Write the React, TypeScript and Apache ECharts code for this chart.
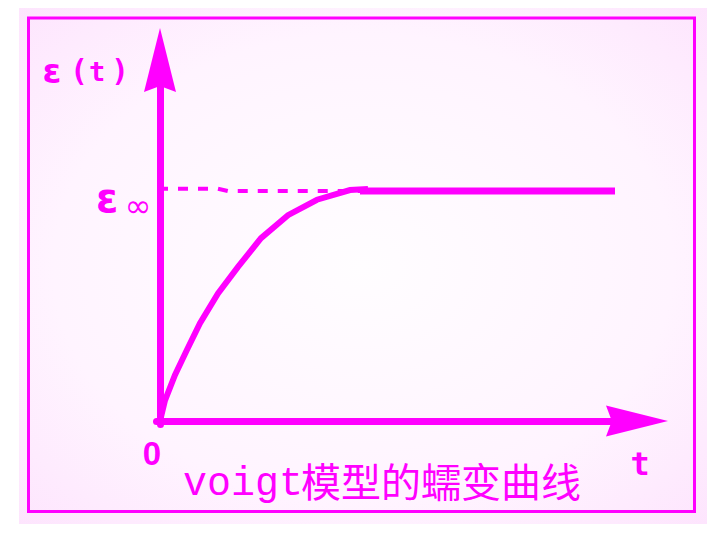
import React, { useEffect, useRef } from "react";
import * as echarts from "echarts";

// Creep curve of the Voigt model (t in arbitrary units, strain relative to ε∞)
const curveT = [0, 0.1, 0.3, 0.54, 0.8, 1.16, 1.56, 2.02, 2.56, 3.14, 3.8, 4.16];
const curveStrain = [0, 0.09, 0.2, 0.31, 0.425, 0.555, 0.67, 0.795, 0.895, 0.962, 1.004, 1.009];
// asymptote ε∞ (dashed reference) and the steady plateau
const dashT = [0, 1.16, 1.36, 4.0];
const dashStrain = [1.01, 1.01, 1.0, 1.0];
const plateauT = [4.0, 9.1];
const plateauStrain = [1.0, 1.0];

const MAGENTA = "#ff00ff";

const pairs = (xs: number[], ys: number[]) => xs.map((x, i) => [x, ys[i]]);

const arrowPath = "path://M16,0 L32,64 L16,58 L0,64 Z";

function txt(text: string, x: number, y: number, font: string, align = "center") {
  return {
    type: "text",
    x,
    y,
    silent: true,
    style: {
      text,
      font,
      fill: MAGENTA,
      align,
      textAlign: align,
      verticalAlign: "middle",
      textVerticalAlign: "middle",
    },
  };
}

export default function App() {
  const ref = useRef<HTMLDivElement>(null);
  useEffect(() => {
    if (!ref.current) return;
    const chart = echarts.init(ref.current, null, { renderer: "svg" });
    chart.setOption({
      animation: false,
      backgroundColor: "#ffffff",
      grid: { left: 156.5, right: 63, top: 76, bottom: 108.55 },
      xAxis: {
        type: "value",
        z: 5,
        min: -0.07,
        max: 9.8,
        axisLine: {
          show: true,
          onZero: true,
          lineStyle: { color: MAGENTA, width: 7 },
          symbol: ["none", arrowPath],
          symbolSize: [33, 62],
          symbolOffset: [0, -13],
        },
        axisTick: { show: false },
        axisLabel: { show: false },
        splitLine: { show: false },
      },
      yAxis: {
        type: "value",
        z: 5,
        min: -0.015,
        max: 1.5,
        axisLine: {
          show: true,
          onZero: true,
          lineStyle: { color: MAGENTA, width: 7 },
          symbol: ["none", arrowPath],
          symbolSize: [32, 64],
          symbolOffset: [0, 16],
        },
        axisTick: { show: false },
        axisLabel: { show: false },
        splitLine: { show: false },
      },
      graphic: [
        {
          type: "rect",
          z: -10,
          silent: true,
          shape: { x: 19, y: 8, width: 688, height: 516 },
          style: {
            fill: new echarts.graphic.RadialGradient(0.5, 0.5, 0.75, [
              { offset: 0, color: "#fffdff" },
              { offset: 0.6, color: "#fff4ff" },
              { offset: 1, color: "#fde2fd" },
            ]),
          },
        },
        {
          type: "rect",
          z: -9,
          silent: true,
          shape: { x: 28.5, y: 18, width: 666, height: 493.5 },
          style: { fill: "none", stroke: MAGENTA, lineWidth: 3 },
        },
        txt("ε", 52, 71, 'bold 34px "DejaVu Sans"'),
        txt("(", 79, 70, 'bold 30px "DejaVu Sans Mono"'),
        txt("t", 97, 71, 'bold 27px "DejaVu Sans Mono"'),
        txt(")", 120, 70, 'bold 30px "DejaVu Sans Mono"'),
        txt("ε", 107, 198, 'bold 40px "DejaVu Sans"'),
        txt("∞", 138, 206, '32px "DejaVu Sans"'),
        txt("0", 152, 453, 'bold 33px "Liberation Sans"'),
        txt("t", 640, 464, 'bold 32px "DejaVu Sans Mono"'),
        txt("voigt", 183, 484, '40px "Liberation Mono"', "left"),
        txt("模型的蠕变曲线", 301, 479.5, '40px "Noto Sans CJK SC"', "left"),
      ],
      series: [
        {
          type: "line",
          z: 2,
          data: pairs(dashT, dashStrain),
          symbol: "none",
          silent: true,
          lineStyle: { color: MAGENTA, width: 4, type: [10, 10], dashOffset: 2, cap: "butt" },
        },
        {
          type: "line",
          z: 2,
          data: pairs(curveT, curveStrain),
          symbol: "none",
          silent: true,
          lineStyle: { color: MAGENTA, width: 6, cap: "butt", join: "miter" },
        },
        {
          type: "line",
          z: 2,
          data: pairs(plateauT, plateauStrain),
          symbol: "none",
          silent: true,
          lineStyle: { color: MAGENTA, width: 7, cap: "butt" },
        },
      ],
    });
    return () => chart.dispose();
  }, []);
  return (
    <div
      ref={ref}
      style={{ position: "fixed", left: 0, top: 0, width: 713, height: 533 }}
    />
  );
}
